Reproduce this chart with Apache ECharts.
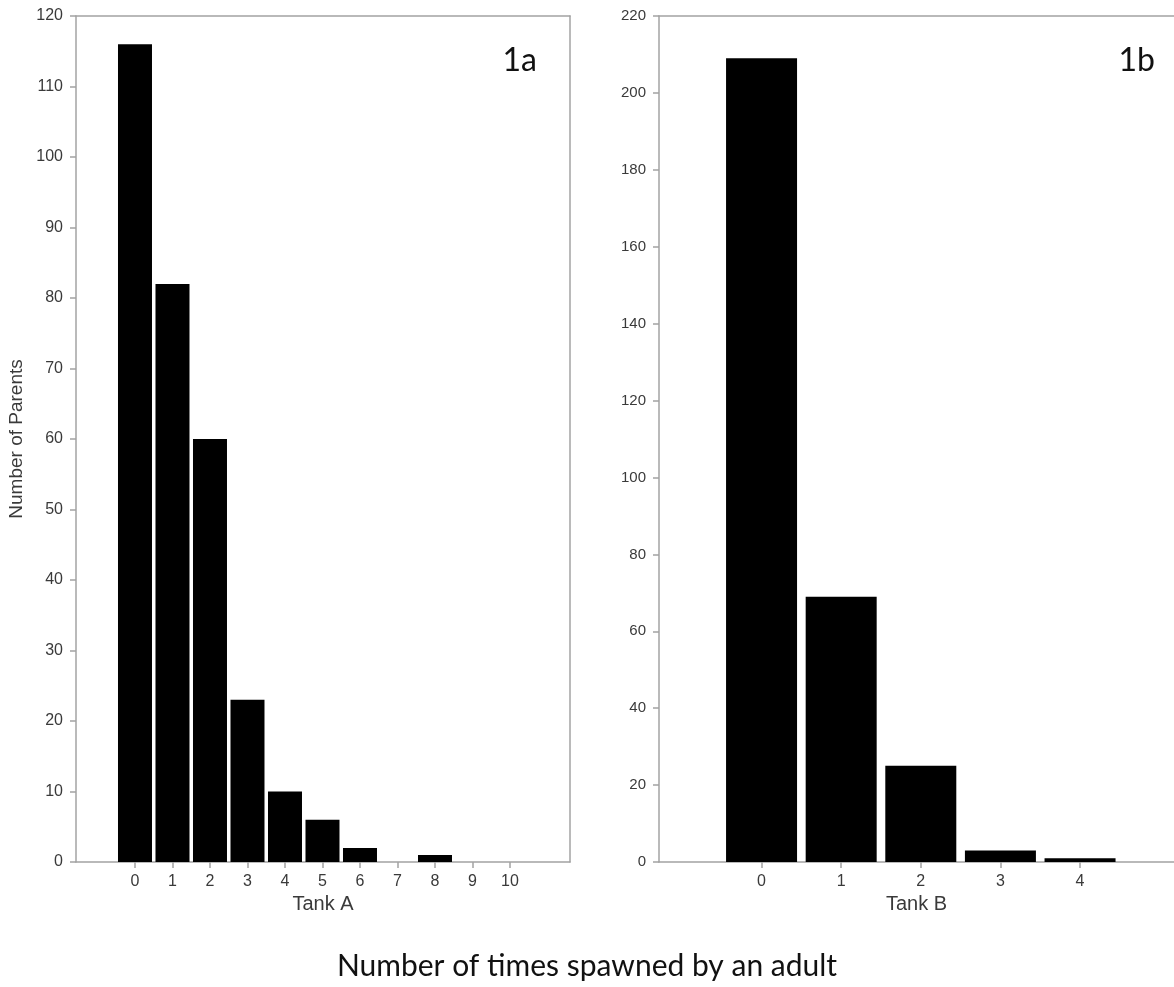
<!DOCTYPE html>
<html>
<head>
<meta charset="utf-8">
<script src="https://cdn.jsdelivr.net/npm/echarts@6/dist/echarts.min.js"></script>
<style>
html,body{margin:0;padding:0;background:#fff;}
#chart{width:1174px;height:987px;}
</style>
</head>
<body>
<div id="chart"></div>
<script>
// ---- data ----
var tankACategories = [0, 1, 2, 3, 4, 5, 6, 7, 8, 9, 10];
var tankAValues = [116, 82, 60, 23, 10, 6, 2, 0, 1, 0, 0];
var tankBCategories = [0, 1, 2, 3, 4];
var tankBValues = [209, 69, 25, 3, 1];
var panelLabels = ['1a', '1b'];
var xAxisNames = ['Tank A', 'Tank B'];
var yAxisName = 'Number of Parents';
var mainTitle = 'Number of times spawned by an adult';

function pairs(xs, ys) { return xs.map(function (x, i) { return [x, ys[i]]; }); }

var axisGray = '#a3a3a3';
var labelColor = '#3a3a3a';

var chart = echarts.init(document.getElementById('chart'), null, {renderer: 'canvas'});

function xAxisCfg(idx, min, max, ticks, name) {
  return {
    type: 'value', gridIndex: idx, min: min, max: max, position: 'bottom',
    name: name, nameLocation: 'middle', nameGap: 30,
    nameTextStyle: {fontFamily: 'Liberation Sans', fontSize: 20, color: labelColor},
    axisLine: {show: true, onZero: false, lineStyle: {color: axisGray, width: 1.5}},
    axisTick: {show: true, length: 6, customValues: ticks, lineStyle: {color: axisGray, width: 1.5}},
    axisLabel: {show: true, customValues: ticks, margin: 12, fontFamily: 'Liberation Sans', fontSize: 16, color: labelColor},
    splitLine: {show: false}
  };
}
function frameAxis(kind, idx, min, max, pos) {
  return {
    type: 'value', gridIndex: idx, min: min, max: max, position: pos,
    axisLine: {show: true, onZero: false, lineStyle: {color: axisGray, width: 1.5}},
    axisTick: {show: false}, axisLabel: {show: false}, splitLine: {show: false}
  };
}
function yAxisCfg(idx, max, interval, name, fs) {
  return {
    type: 'value', gridIndex: idx, min: 0, max: max, interval: interval, position: 'left',
    name: name, nameLocation: 'middle', nameGap: 50,
    nameTextStyle: {fontFamily: 'Liberation Sans', fontSize: 19, color: labelColor},
    axisLine: {show: true, onZero: false, lineStyle: {color: axisGray, width: 1.5}},
    axisTick: {show: true, length: 6, lineStyle: {color: axisGray, width: 1.5}},
    axisLabel: {show: true, margin: 13, fontFamily: 'Liberation Sans', fontSize: fs, color: labelColor},
    splitLine: {show: false}
  };
}

var option = {
  backgroundColor: '#fff',
  animation: false,
  title: [
    {text: mainTitle, left: 'center', top: 946,
      textStyle: {fontFamily: 'Lato', fontSize: 30, fontWeight: 'normal', color: '#111'}},
    {text: panelLabels[0], right: 1174 - 542, top: 40,
      textStyle: {fontFamily: 'Lato', fontSize: 32, fontWeight: 'normal', color: '#111'}},
    {text: panelLabels[1], right: 1174 - 1160, top: 40,
      textStyle: {fontFamily: 'Lato', fontSize: 32, fontWeight: 'normal', color: '#111'}}
  ],
  grid: [
    {left: 76, right: 604, top: 16, bottom: 125, show: false},
    {left: 659, right: 0, top: 16, bottom: 125, show: false}
  ],
  xAxis: [
    xAxisCfg(0, -1.573, 11.6, tankACategories, xAxisNames[0]),
    xAxisCfg(1, -1.288, 5.18, tankBCategories, xAxisNames[1]),
    frameAxis('x', 0, -1.573, 11.6, 'top'),
    frameAxis('x', 1, -1.288, 5.18, 'top')
  ],
  yAxis: [
    yAxisCfg(0, 120, 10, yAxisName, 16),
    yAxisCfg(1, 220, 20, '', 15),
    frameAxis('y', 0, 0, 120, 'right')
  ],
  series: [
    {type: 'bar', xAxisIndex: 0, yAxisIndex: 0, barWidth: 34,
      itemStyle: {color: '#000'}, data: pairs(tankACategories, tankAValues)},
    {type: 'bar', xAxisIndex: 1, yAxisIndex: 1, barWidth: 71,
      itemStyle: {color: '#000'}, data: pairs(tankBCategories, tankBValues)}
  ]
};
chart.setOption(option);
</script>
</body>
</html>
